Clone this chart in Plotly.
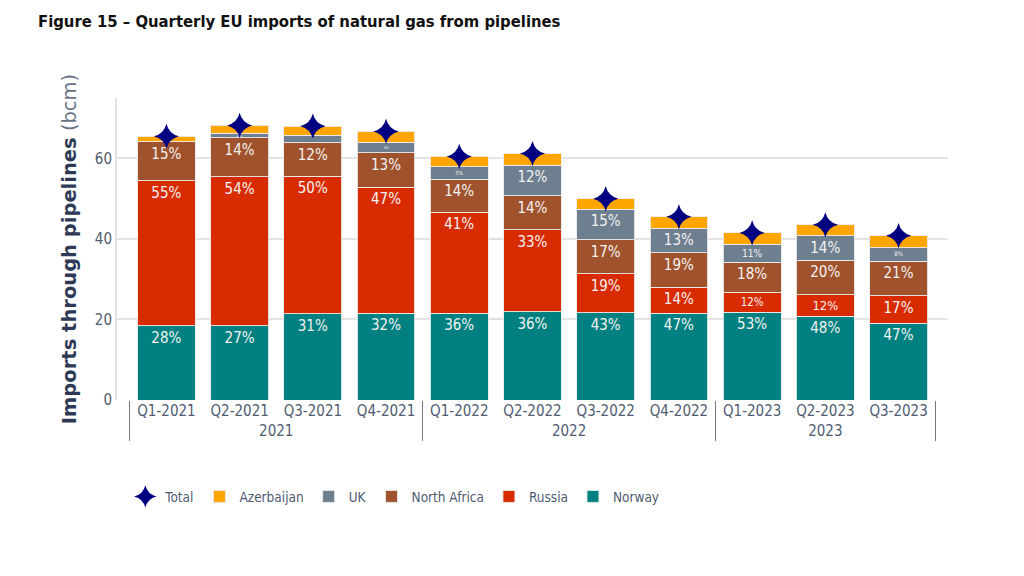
import plotly.graph_objects as go

quarters = ["Q1-2021", "Q2-2021", "Q3-2021", "Q4-2021", "Q1-2022", "Q2-2022",
            "Q3-2022", "Q4-2022", "Q1-2023", "Q2-2023", "Q3-2023"]
years = ["2021", "2021", "2021", "2021", "2022", "2022", "2022", "2022", "2023", "2023", "2023"]

norway = [18.5, 18.4, 21.4, 21.6, 21.6, 21.9, 21.7, 21.5, 21.8, 20.8, 19.0]
russia = [35.9, 37.0, 34.2, 31.2, 25.0, 20.4, 9.6, 6.5, 4.9, 5.3, 6.9]
north_africa = [9.7, 9.7, 8.3, 8.6, 8.2, 8.4, 8.5, 8.6, 7.5, 8.6, 8.6]
uk = [0.0, 1.2, 1.8, 2.6, 3.1, 7.6, 7.6, 6.0, 4.5, 6.1, 3.3]
azerbaijan = [1.4, 1.9, 2.3, 2.7, 2.6, 2.9, 2.6, 2.9, 2.8, 2.7, 3.0]

total = [round(a + b + c + d + e, 1) for a, b, c, d, e in zip(norway, russia, north_africa, uk, azerbaijan)]

FONT = "DejaVu Sans Condensed, Liberation Sans Narrow, Roboto Condensed, sans-serif"
x = [years, quarters]


def pct(vals):
    return [f"{round(v / t * 100)}%" if v > 0 else "" for v, t in zip(vals, total)]


series = [
    ("Norway", norway, "#008080", True),
    ("Russia", russia, "#D92B00", True),
    ("North Africa", north_africa, "#A0522D", True),
    ("UK", uk, "#6E7F8F", True),
    ("Azerbaijan", azerbaijan, "#FFA500", False),
]

fig = go.Figure()
for name, vals, color, show_text in series:
    fig.add_trace(go.Bar(
        x=x, y=vals, name=name,
        marker=dict(color=color, line=dict(color="rgba(235,235,235,0.9)", width=1)),
        text=pct(vals) if show_text else None,
        textposition="inside" if show_text else "none",
        insidetextanchor="end",
        textangle=0,
        insidetextfont=dict(color="#F2F2F2", size=15, family=FONT),
    ))

fig.add_trace(go.Scatter(
    x=x, y=total, name="Total", mode="markers",
    marker=dict(symbol="star-diamond", size=18, color="#000080"),
))

fig.update_layout(
    barmode="stack",
    bargap=0.21,
    width=1024, height=576,
    paper_bgcolor="white", plot_bgcolor="white",
    margin=dict(l=117, r=76, t=98, b=176),
    title=dict(
        text="<b>Figure 15 – Quarterly EU imports of natural gas from pipelines</b>",
        x=38 / 1024, xanchor="left", y=1 - 21 / 576, yanchor="middle",
        font=dict(family=FONT, size=16.5, color="#111111"),
    ),
    legend=dict(
        orientation="h", traceorder="reversed",
        x=0.01, xanchor="left", y=-0.32, yanchor="middle",
        font=dict(family=FONT, size=13.5, color="#4F5B70"),
    ),
    font=dict(family=FONT, color="#4F5B70"),
)

fig.update_yaxes(
    range=[0, 75], tickvals=[0, 20, 40, 60],
    showgrid=True, gridcolor="#E3E3E3", gridwidth=2,
    showline=True, linecolor="#E0E0E0", linewidth=2,
    zeroline=False,
    tickfont=dict(family=FONT, size=15, color="#4F5B70"),
    ticks="", ticklen=0,
    title=dict(
        text="<b>Imports through pipelines</b> <span style='color:#6A7388'>(bcm)</span>",
        font=dict(family="DejaVu Sans, Verdana, sans-serif", size=19.5, color="#2E3A55"),
        standoff=13,
    ),
)

fig.update_xaxes(
    range=[-0.675, 10.675],
    showgrid=False, showline=False,
    tickfont=dict(family=FONT, size=15, color="#4F5B70"),
    showdividers=True, dividercolor="#777777", dividerwidth=1,
)

fig.write_html("out.html")
